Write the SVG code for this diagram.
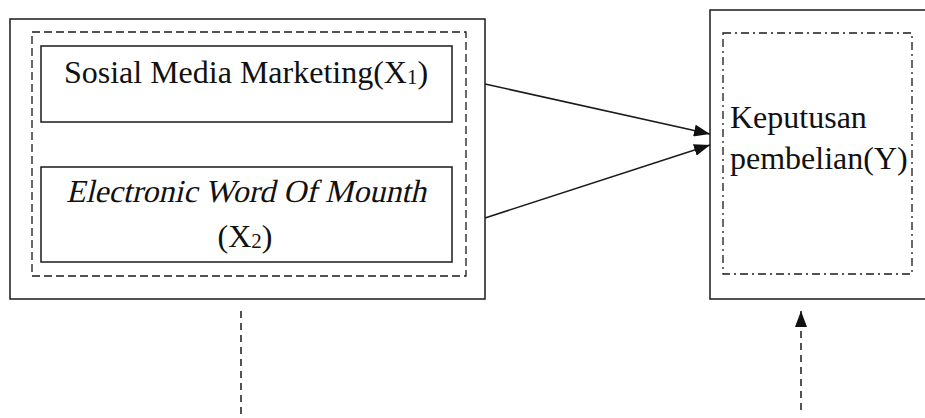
<svg xmlns="http://www.w3.org/2000/svg" width="925" height="418" viewBox="0 0 925 418">
<defs>
<style>
.solid{fill:none;stroke:#1a1a1a;stroke-width:1.5}
.dash{fill:none;stroke:#1a1a1a;stroke-width:1.3;stroke-dasharray:8 4}
.dashdot{fill:none;stroke:#1a1a1a;stroke-width:1.3;stroke-dasharray:8 4 2 4}
.conn{fill:none;stroke:#1a1a1a;stroke-width:1.5}
.conn-dash{fill:none;stroke:#1a1a1a;stroke-width:1.5;stroke-dasharray:7 5}
.t{font-family:"Liberation Serif","Times New Roman",serif;font-size:32px;fill:#111}
.sub{font-size:21px}
</style>
<marker id="arr" viewBox="0 0 16 12" refX="16" refY="6" markerWidth="16" markerHeight="12" markerUnits="userSpaceOnUse" orient="auto">
<path d="M0,0 L16,6 L0,12 Z" fill="#111"/>
</marker>
</defs>
<rect width="925" height="418" fill="#fff"/>
<g id="group-x">
<rect class="solid" x="10" y="19" width="475" height="280"/>
<rect class="dash" x="32" y="32" width="434" height="244"/>
</g>
<g id="node-x1">
<rect class="solid" x="41" y="46" width="411" height="76"/>
<text class="t" x="246" y="83" text-anchor="middle">Sosial Media Marketing(X<tspan class="sub" dy="1">1</tspan><tspan dy="-1">)</tspan></text>
</g>
<g id="node-x2">
<rect class="solid" x="41" y="167" width="411" height="95"/>
<text class="t" transform="translate(246,202) skewX(-13)" x="0" y="0" text-anchor="middle">Electronic Word Of Mounth</text>
<text class="t" x="245" y="247" text-anchor="middle">(X<tspan class="sub" dy="1">2</tspan><tspan dy="-1">)</tspan></text>
</g>
<g id="node-y">
<rect class="solid" x="710" y="10" width="220" height="289"/>
<rect class="dashdot" x="723" y="33" width="189" height="241"/>
<text class="t" x="730" y="128">Keputusan</text>
<text class="t" x="730" y="169">pembelian(Y)</text>
</g>
<g id="connectors">
<line class="conn" x1="485" y1="84" x2="710" y2="134" marker-end="url(#arr)"/>
<line class="conn" x1="485" y1="218" x2="710" y2="145" marker-end="url(#arr)"/>
<line class="conn-dash" x1="241" y1="311" x2="241" y2="414"/>
<line class="conn-dash" x1="801" y1="410" x2="801" y2="311" marker-end="url(#arr)"/>
</g>
</svg>
